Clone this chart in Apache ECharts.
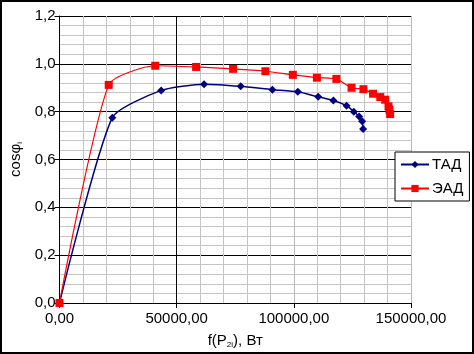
<!DOCTYPE html>
<html>
<head>
<meta charset="utf-8">
<script src="https://cdn.jsdelivr.net/npm/echarts@6/dist/echarts.min.js"></script>
<style>
  html, body { margin: 0; padding: 0; background: #fff; }
  #chart { width: 474px; height: 354px; }
</style>
</head>
<body>
<div id="chart"></div>
<script>
// значения: мощность, Вт / cos φ
const tadP   = [0, 22530, 43390, 61680, 77310, 90830, 101690, 110400, 116870, 122500, 125600, 127870, 129140, 129560]
const tadCos = [0, 0.775, 0.889, 0.915, 0.906, 0.892, 0.883, 0.862, 0.847, 0.825, 0.800, 0.780, 0.760, 0.728]

const eadP   = [0, 21000, 40850, 58300, 74070, 87870, 99580, 109840, 118150, 124630, 129700, 133800, 136900, 139000, 140400, 140800, 141100]
const eadCos = [0, 0.912, 0.992, 0.987, 0.979, 0.969, 0.954, 0.942, 0.937, 0.900, 0.894, 0.875, 0.861, 0.850, 0.822, 0.808, 0.790]

const zip = (xs, ys) => xs.map((x, i) => [x, ys[i]])
const font = 'Liberation Sans, Arial, sans-serif'

const chart = echarts.init(document.getElementById('chart'))

chart.setOption({
  animation: false,
  textStyle: { fontFamily: font },
  grid: { left: 56, right: 63, top: 16, bottom: 50 },
  graphic: [{
    type: 'rect',
    shape: { x: 1, y: 1, width: 472, height: 352 },
    style: { fill: 'none', stroke: '#000', lineWidth: 2 },
    silent: true
  }],
  legend: {
    orient: 'vertical',
    left: 395, top: 152,
    padding: [5, 6, 5, 5],
    itemGap: 9,
    itemWidth: 28, itemHeight: 9,
    backgroundColor: '#fff',
    borderColor: '#000', borderWidth: 1, borderRadius: 0,
    textStyle: { fontSize: 15, color: '#000', fontFamily: font, padding: [0, 0, 0, -2] },
    data: ['ТАД', 'ЭАД']
  },
  xAxis: {
    type: 'value',
    min: 0, max: 150000, interval: 50000,
    name: 'f(P{s|2i}), Вт',
    nameLocation: 'middle',
    nameGap: 30,
    nameTextStyle: {
      fontSize: 15, color: '#000', fontFamily: font,
      rich: { s: { fontSize: 8, verticalAlign: 'bottom', padding: [8, 0, 0, 0] } }
    },
    axisLine: { lineStyle: { color: '#000', width: 1 } },
    axisTick: { show: true, length: 5, lineStyle: { color: '#000' } },
    axisLabel: {
      fontSize: 15, color: '#000', margin: 8,
      formatter: v => v.toFixed(2).replace('.', ',')
    },
    splitLine: { show: true, lineStyle: { color: ['#000', '#000', '#b8b8b8', '#b8b8b8'], width: 1 } },
    minorTick: { show: false, splitNumber: 5 },
    minorSplitLine: { show: true, lineStyle: { color: '#c4c4c4', width: 1 } }
  },
  yAxis: {
    type: 'value',
    min: 0, max: 1.2, interval: 0.2,
    name: 'cosφ{s|i}',
    nameLocation: 'middle',
    nameGap: 36,
    nameTextStyle: {
      fontSize: 15, color: '#000', fontFamily: font,
      rich: { s: { fontSize: 8, verticalAlign: 'bottom', padding: [8, 0, 0, 0] } }
    },
    axisLine: { show: true, lineStyle: { color: '#000', width: 1 } },
    axisTick: { show: true, length: 5, lineStyle: { color: '#000' } },
    axisLabel: {
      fontSize: 15, color: '#000', margin: 4,
      formatter: v => v.toFixed(1).replace('.', ',')
    },
    splitLine: { show: true, lineStyle: { color: '#000', width: 1 } },
    minorTick: { show: false, splitNumber: 5 },
    minorSplitLine: { show: true, lineStyle: { color: '#c4c4c4', width: 1 } }
  },
  series: [
    {
      name: 'ТАД',
      type: 'line',
      data: zip(tadP, tadCos),
      smooth: 0.2,
      symbol: 'diamond',
      symbolSize: 8,
      color: '#000080',
      lineStyle: { color: '#000080', width: 1.5 },
      itemStyle: { color: '#000080' },
      z: 3
    },
    {
      name: 'ЭАД',
      type: 'line',
      data: zip(eadP, eadCos),
      smooth: 0.2,
      symbol: 'rect',
      symbolSize: 8,
      color: '#ff0000',
      lineStyle: { color: '#ff0000', width: 1.2 },
      itemStyle: { color: '#ff0000' },
      z: 4
    }
  ]
})
</script>
</body>
</html>
